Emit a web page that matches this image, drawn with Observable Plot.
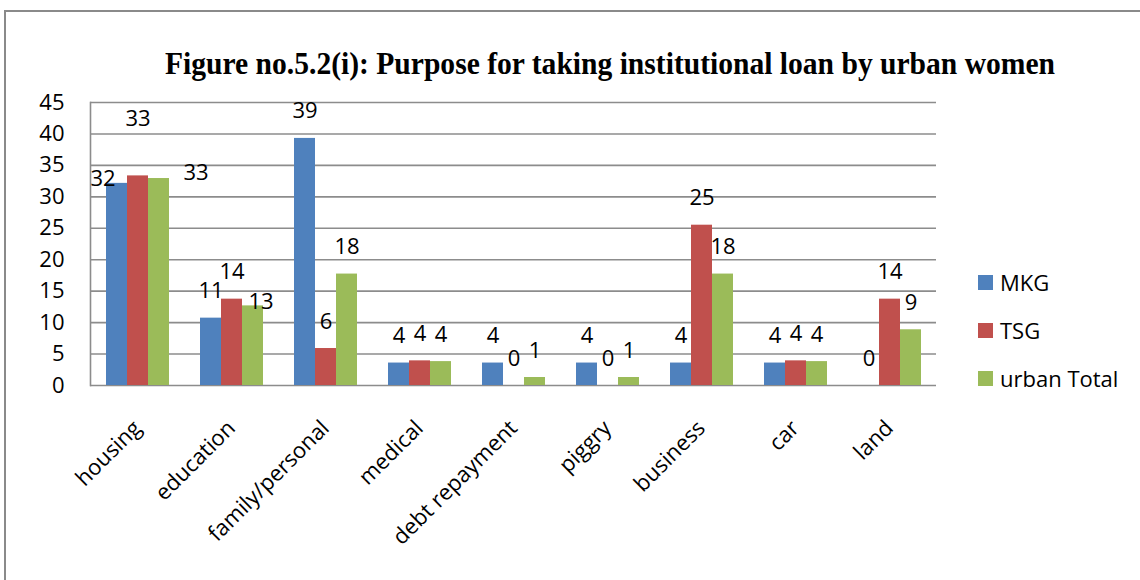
<!DOCTYPE html>
<html><head><meta charset="utf-8">
<script src="https://cdn.jsdelivr.net/npm/d3@7"></script>
<script src="https://cdn.jsdelivr.net/npm/@observablehq/plot@0.6"></script>
<style>
html,body{margin:0;padding:0;background:#fff;}
#wrap{position:relative;width:1140px;height:580px;overflow:hidden;font-family:"Open Sans",Lato,sans-serif;}
#frame{position:absolute;left:4px;top:10px;width:1300px;height:800px;border-top:2px solid #8a8a8a;border-left:2px solid #8a8a8a;box-sizing:border-box;}
#title{position:relative;height:90px;width:1140px;}
#title span{position:absolute;left:610px;top:48px;white-space:nowrap;font-family:"Liberation Serif","Times New Roman",serif;font-weight:bold;font-size:31px;line-height:1;transform-origin:0 0;}
#chart{position:relative;}
#legend{position:absolute;left:978px;top:271px;font-size:22px;color:#000;}
.li{position:absolute;left:0;white-space:nowrap;height:22px;line-height:22px;}
.sw{position:absolute;left:0;top:4px;width:15px;height:15px;}
.lt{position:absolute;left:22px;top:0;}
</style></head>
<body>
<div id="wrap">
<div id="frame"></div>
<div id="title"><span id="tt">Figure no.5.2(i): Purpose for taking institutional loan by urban women</span></div>
<div id="chart"></div>
<div id="legend"></div>
</div>
<script>
const categories = ["housing","education","family/personal","medical","debt repayment","piggry","business","car","land"];
const seriesNames = ["MKG","TSG","urban Total"];
const mkg = [32.14,10.71,39.29,3.57,3.57,3.57,3.57,3.57,0];
const tsg = [33.33,13.73,5.88,3.92,0,0,25.49,3.92,13.73];
const urbanTotal = [32.91,12.66,17.72,3.80,1.27,1.27,17.72,3.80,8.86];
const yTicks = [0,5,10,15,20,25,30,35,40,45];
const colors = ["#4F81BD","#C0504D","#9BBB59"];

const seriesValues = [mkg, tsg, urbanTotal];
const rows = [];
categories.forEach((c, i) => seriesNames.forEach((s, j) => rows.push({category: c, series: s, value: seriesValues[j][i]})));

// manual label nudges (as placed in the original chart)
const nudges = [
  {category:"housing", series:"MKG", dx:-14, dy:23},
  {category:"housing", series:"TSG", dx:0, dy:-30},
  {category:"housing", series:"urban Total", dx:37, dy:21},
  {category:"education", series:"urban Total", dx:8, dy:23}
];
const isNudged = d => nudges.some(n => n.category === d.category && n.series === d.series);

const FONT = "'Open Sans', Lato, sans-serif";
const labelFont = {fontSize: 22, fill: "#000", fontFamily: FONT};

const marks = [
  Plot.ruleY(yTicks, {y: d => d, stroke: "#8c8c8c", strokeWidth: 1.6}),
  Plot.frame({anchor: "left", facetAnchor: "left", stroke: "#8c8c8c", strokeWidth: 1.6}),
  Plot.barY(rows, {fx: "category", x: "series", y: "value", fill: "series"}),
  Plot.text(rows.filter(d => !isNudged(d)), {fx: "category", x: "series", y: "value", text: d => String(Math.round(d.value)), dy: -27, ...labelFont}),
  ...nudges.map(n => Plot.text(rows.filter(d => d.category === n.category && d.series === n.series),
      {fx: "category", x: "series", y: "value", text: d => String(Math.round(d.value)), dx: n.dx, dy: -27 + n.dy, ...labelFont})),
  Plot.axisY({ticks: yTicks, tickSize: 0, tickPadding: 26, fontSize: 22, label: null, fontFamily: FONT, fill: "#000"}),
  Plot.axisFx({anchor: "bottom", tickRotate: -45, tickSize: 0, tickPadding: 39, fontSize: 22, label: null, fontFamily: FONT, fill: "#000"})
];

const chart = Plot.plot({
  width: 1140,
  height: 490,
  marginLeft: 90,
  marginRight: 204,
  marginTop: 12,
  marginBottom: 195,
  style: {background: "transparent", color: "#000", overflow: "visible"},
  fx: {domain: categories, padding: 0, label: null},
  x: {domain: seriesNames, paddingInner: 0, paddingOuter: 0.738, axis: null},
  y: {domain: [0, 45], label: null},
  color: {domain: seriesNames, range: colors},
  marks
});
document.getElementById("chart").appendChild(chart);

// legend
const legend = document.getElementById("legend");
seriesNames.forEach((s, i) => {
  const li = document.createElement("div");
  li.className = "li";
  li.style.top = (i * 48) + "px";
  li.innerHTML = `<span class="sw" style="background:${colors[i]}"></span><span class="lt">${s}</span>`;
  legend.appendChild(li);
});

// fit title to original width (condensed serif)
const tt = document.getElementById("tt");
const w = tt.getBoundingClientRect().width;
const target = 890;
const sx = target / w;
tt.style.transform = `translateX(${-target/2}px) scaleX(${sx})`;
</script>
</body></html>
